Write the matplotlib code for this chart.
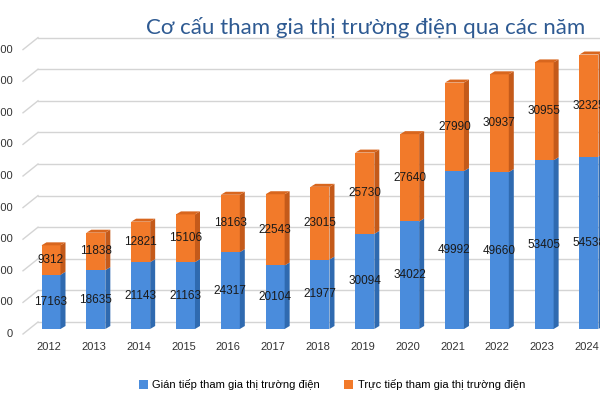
import matplotlib
matplotlib.use("Agg")
import matplotlib.pyplot as plt
from matplotlib.patches import Polygon, Patch
from matplotlib import transforms as mtrans

years = ["2012", "2013", "2014", "2015", "2016", "2017", "2018",
         "2019", "2020", "2021", "2022", "2023", "2024"]
gian_tiep = [17163, 18635, 21143, 21163, 24317, 20104, 21977,
             30094, 34022, 49992, 49660, 53405, 54538]
truc_tiep = [9312, 11838, 12821, 15106, 18163, 22543, 23015,
             25730, 27640, 27990, 30937, 30955, 32325]
y_ticks = [0, 10000, 20000, 30000, 40000, 50000, 60000, 70000, 80000, 90000]

title = "Cơ cấu tham gia thị trường điện qua các năm"
label_gt = "Gián tiếp tham gia thị trường điện"
label_tt = "Trực tiếp tham gia thị trường điện"

BLUE, BLUE_SIDE = "#4A8CDC", "#2F6AB0"
ORANGE, ORANGE_SIDE, ORANGE_TOP = "#F27A2A", "#C45A1A", "#D8661E"
GRID = "#D4D4D4"

plt.rcParams["font.family"] = ["Liberation Sans", "DejaVu Sans"]

W, H = 600, 400
fig = plt.figure(figsize=(6, 4), dpi=100)

# layout in pixels: back wall starts at x=38, front plane 0 at y=329, 90000 at y=44.6
ax_left, ax_bottom, ax_top = 38, H - 329, H - 44.6
ax = fig.add_axes([ax_left / W, ax_bottom / H, 1 - ax_left / W, (ax_top - ax_bottom) / H])
ax.set_axis_off()

px_per_x = 44.83
x0 = (51 - ax_left) / px_per_x
ax.set_xlim(-x0, (W - ax_left) / px_per_x - x0)
ax.set_ylim(0, 90000)
px_per_y = (ax_top - ax_bottom) / 90000

def shifted(dx, dy):
    return ax.transData + mtrans.Affine2D().translate(dx, dy)

blend = mtrans.blended_transform_factory(ax.transAxes, ax.transData)

# back wall gridlines with a slanted left wall (the chart is cropped on the left)
for v in y_ticks:
    ax.plot([0, 1], [v, v], color=GRID, lw=1,
            transform=blend + mtrans.Affine2D().translate(0, 7), clip_on=False, zorder=0)
    p0 = blend.transform((0, v))
    ax.plot([p0[0] - 15, p0[0]], [p0[1] - 5, p0[1] + 7], color=GRID, lw=1,
            transform=None, clip_on=False, zorder=0)
    ax.text(13, p0[1] - 5, str(v), transform=None, ha="right", va="center",
            fontsize=8, color="#333333")

bar_w = 19 / px_per_x
dx = 5 / px_per_x
dy = 3 / px_per_y

def draw_segment(x, y0, y1, face, side, top=None):
    xl, xr = x - bar_w / 2, x + bar_w / 2
    ax.add_patch(Polygon([(xl, y0), (xr, y0), (xr, y1), (xl, y1)],
                         closed=True, facecolor=face, edgecolor="none", zorder=3))
    ax.add_patch(Polygon([(xr, y0), (xr + dx, y0 + dy), (xr + dx, y1 + dy), (xr, y1)],
                         closed=True, facecolor=side, edgecolor="none", zorder=3))
    if top is not None:
        ax.add_patch(Polygon([(xl, y1), (xr, y1), (xr + dx, y1 + dy), (xl + dx, y1 + dy)],
                             closed=True, facecolor=top, edgecolor="none", zorder=3))

for i, (g, t) in enumerate(zip(gian_tiep, truc_tiep)):
    draw_segment(i, 0, g, BLUE, BLUE_SIDE)
    draw_segment(i, g, g + t, ORANGE, ORANGE_SIDE, ORANGE_TOP)
    ax.text(i, g / 2, str(g), ha="center", va="center", fontsize=8.5,
            color="#1a1a1a", zorder=5, clip_on=False)
    ax.text(i, g + t / 2, str(t), ha="center", va="center", fontsize=8.5,
            color="#1a1a1a", zorder=5, clip_on=False)
    ax.text(i, 0, years[i], transform=shifted(-2, -(347 - 329)), ha="center",
            va="center", fontsize=8, color="#333333")

fig.text(366 / W, 1 - 27 / H, title, ha="center", va="center",
         fontsize=16, color="#2E5A92", family=["Lato", "DejaVu Sans"])

handles = [Patch(facecolor=BLUE, edgecolor="none", label=label_gt),
           Patch(facecolor=ORANGE, edgecolor="none", label=label_tt)]
fig.legend(handles=handles, loc="center", bbox_to_anchor=(332 / W, 1 - 385 / H),
           ncol=2, frameon=False, fontsize=8, handlelength=0.8, handleheight=0.8,
           handletextpad=0.4, columnspacing=2.2)

fig.savefig("out.png", dpi=100)
